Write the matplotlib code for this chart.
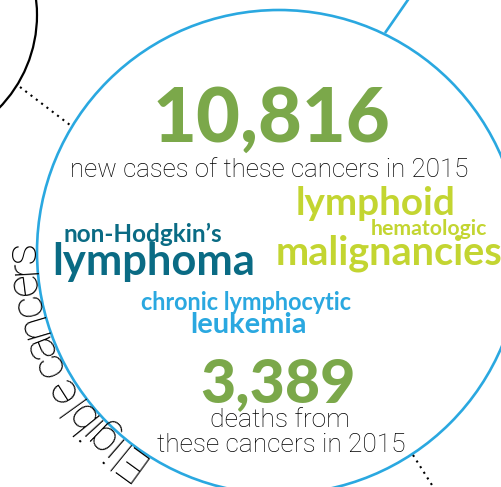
import numpy as np
import matplotlib.pyplot as plt
from matplotlib.patches import Circle
from matplotlib.textpath import TextPath
from matplotlib.font_manager import FontProperties

# Figures shown in the graphic
new_cases = 10816
deaths = 3389
year = 2015

# Cancer groups, one list of label lines per group
nhl_lines = ["non-Hodgkin\u2019s", "lymphoma"]
cll_lines = ["chronic lymphocytic", "leukemia"]
lhm_lines = ["lymphoid", "hematologic", "malignancies"]
ring_label = "Eligible cancers"

BOLD_FONT = "Lato"
THIN_FONT = "Roboto"
GREEN = "#7ba84a"
LIME = "#c3d531"
TEAL = "#0a6b84"
BLUE = "#2aa8e0"
INK = "#000000"

fig = plt.figure(figsize=(5.02, 4.87), dpi=100)
ax = fig.add_axes([0, 0, 1, 1])
ax.set_xlim(0, 502)
ax.set_ylim(487, 0)
ax.axis('off')


def ink_extent(s, size_px, family, weight):
    fp = FontProperties(family=family, weight=weight)
    ext = TextPath((0, 0), s, size=size_px, prop=fp).get_extents()
    return ext.x0, ext.x1


def fit_text(s, x0, x1, base, color, family, weight):
    # scale the font so the inked text spans x0..x1 (1 data unit = 1 px)
    a, b = ink_extent(s, 100, family, weight)
    size_px = 100 * (x1 - x0) / (b - a)
    a, b = ink_extent(s, size_px, family, weight)
    ax.text(x0 - a, base, s, ha='left', va='baseline', color=color,
            fontsize=size_px * 72 / 100, family=family, fontweight=weight)


def arc_text(s, cx, cy, r, theta_start, span_px, color, family, weight, grow=1.0):
    # letters placed one by one along the ring; grow > 1 draws them larger
    # than their spacing, which imitates a condensed face
    a, b = ink_extent(s, 100, family, weight)
    size_px = 100 * span_px / (b - a)
    for i, ch in enumerate(s):
        if ch == ' ':
            continue
        _, right = ink_extent(s[:i + 1], size_px, family, weight)
        ca, cb = ink_extent(ch, size_px, family, weight)
        mid = right - (cb - ca) / 2 - a * size_px / 100
        th = np.radians(theta_start) - mid / r
        ax.text(cx + r * np.cos(th), cy - r * np.sin(th), ch,
                rotation=np.degrees(th) - 90, rotation_mode='anchor',
                ha='center', va='baseline', color=color,
                fontsize=grow * size_px * 72 / 100, family=family,
                fontweight=weight)


# rings and connectors
ax.add_patch(Circle((-96, 15), 133, fill=False, ec='black', lw=1.6))
ax.add_patch(Circle((279, 252), 242, fill=False, ec=BLUE, lw=1.9))
ax.plot([385, 412], [33, -6], color=BLUE, lw=1.9, solid_capstyle='butt')
ax.plot([20, 70], [87, 125], color='black', lw=1.5, ls=(0, (1, 2.2)))
ax.plot([413, 437], [455, 493], color='black', lw=1.5, ls=(0, (1, 2.2)))

# headline numbers
fit_text(f"{new_cases:,}", 157, 388, 142, GREEN, BOLD_FONT, 'black')
fit_text(f"new cases of these cancers in {year}", 72, 466, 177, INK, THIN_FONT, 'light')
fit_text(f"{deaths:,}", 202, 353, 402, GREEN, BOLD_FONT, 'black')
fit_text("deaths from", 212, 348, 427, INK, THIN_FONT, 'light')
fit_text(f"these cancers in {year}", 157, 403, 452, INK, THIN_FONT, 'light')

# cancer groups
fit_text(lhm_lines[0], 298, 453, 215, LIME, BOLD_FONT, 'bold')
fit_text(lhm_lines[1], 372, 487, 235, LIME, BOLD_FONT, 'bold')
fit_text(lhm_lines[2], 278, 501, 265, LIME, BOLD_FONT, 'bold')
fit_text(nhl_lines[0], 65, 221, 242, TEAL, BOLD_FONT, 'bold')
fit_text(nhl_lines[1], 55, 253, 275, TEAL, BOLD_FONT, 'bold')
fit_text(cll_lines[0], 142, 352, 310, BLUE, BOLD_FONT, 'bold')
fit_text(cll_lines[1], 192, 305, 333, BLUE, BOLD_FONT, 'bold')

# label running along the outside of the blue ring
arc_text(ring_label, 279, 252, 244, 236.0, 246, INK, THIN_FONT, 'light', grow=1.2)

fig.savefig("out.png", dpi=100)
